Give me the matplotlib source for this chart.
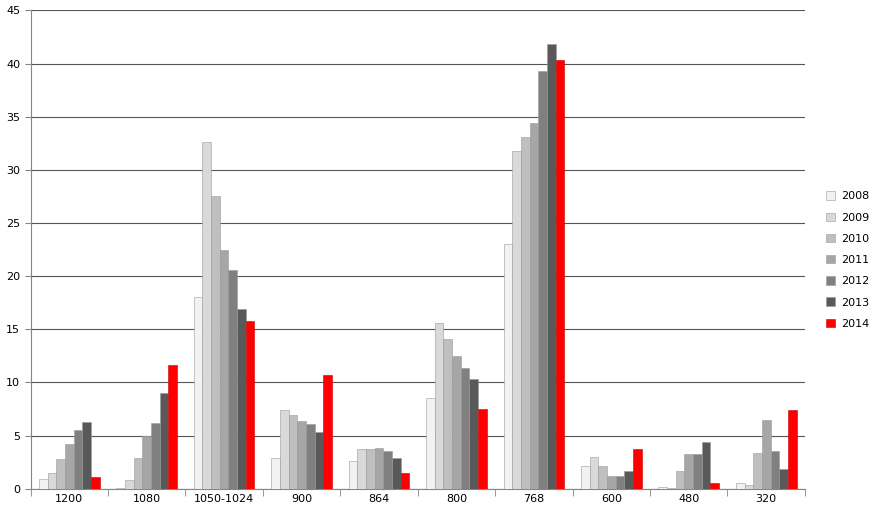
import matplotlib
matplotlib.use("Agg")
import matplotlib.pyplot as plt
import numpy as np

categories = ["1200","1080","1050-1024","900","864","800","768","600","480","320"]
years = ["2008","2009","2010","2011","2012","2013","2014"]
v2008 = [0.9,0.1,18.0,2.9,2.6,8.5,23.0,2.1,0.2,0.5]
v2009 = [1.5,0.8,32.6,7.4,3.7,15.6,31.8,3.0,0.1,0.4]
v2010 = [2.8,2.9,27.5,6.9,3.7,14.1,33.1,2.1,1.7,3.4]
v2011 = [4.2,5.0,22.5,6.4,3.8,12.5,34.4,1.2,3.3,6.5]
v2012 = [5.5,6.2,20.6,6.1,3.6,11.4,39.3,1.2,3.3,3.6]
v2013 = [6.3,9.0,16.9,5.3,2.9,10.3,41.8,1.7,4.4,1.9]
v2014 = [1.1,11.6,15.8,10.7,1.5,7.5,40.3,3.7,0.5,7.4]
series = [v2008,v2009,v2010,v2011,v2012,v2013,v2014]
colors = ["#f2f2f2","#d9d9d9","#bfbfbf","#a6a6a6","#808080","#595959","#ff0000"]

fig = plt.figure(figsize=(8.73,5.2), dpi=100)
ax = fig.add_axes([0.035, 0.06, 0.887, 0.92])
x = np.arange(len(categories))
w = 0.112
for i,(s,c) in enumerate(zip(series,colors)):
    ax.bar(x+(i-3)*w, s, w, color=c, edgecolor="#9a9a9a" if i<6 else "#cc0000", linewidth=0.4, label=years[i], zorder=3)
ax.set_xlim(-0.5, len(categories)-0.5)
ax.set_ylim(0,45)
ax.set_yticks(range(0,46,5))
ax.set_xticks(x)
ax.set_xticklabels(categories)
ax.set_xticks(np.arange(-0.5,len(categories),1), minor=True)
ax.tick_params(axis='x', which='major', length=0, labelsize=8)
ax.tick_params(axis='x', which='minor', length=5, color="#868686")
ax.tick_params(axis='y', length=4, labelsize=8, color="#868686")
ax.yaxis.grid(True, color="#555555", linewidth=0.8, zorder=0)
for sp in ["top","right"]:
    ax.spines[sp].set_visible(False)
for sp in ["left","bottom"]:
    ax.spines[sp].set_color("#868686")
fig.legend(loc="center left", bbox_to_anchor=(0.935,0.5), frameon=False, fontsize=8,
           handlelength=0.8, handleheight=0.8, labelspacing=1.0, handletextpad=0.5)
fig.savefig("out.png", dpi=100, facecolor="white")
